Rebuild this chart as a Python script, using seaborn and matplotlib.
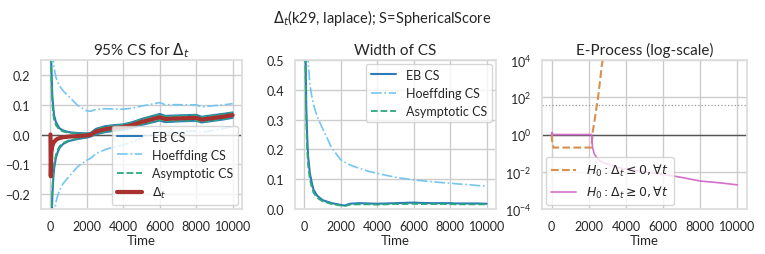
import numpy as np
import pandas as pd
import matplotlib
matplotlib.use("Agg")
import matplotlib.pyplot as plt
import seaborn as sns

# ---------------- data ----------------
time = [1, 20, 50, 100, 150, 200, 300, 400, 500, 700, 1000, 1500, 2000, 2200, 2500,
        3000, 3500, 4000, 4500, 5000, 5500, 6000, 6300, 7000, 7500, 8000, 8300, 9000,
        9500, 10000]
delta = [0.0, -0.14, -0.06, -0.04, -0.03, -0.025, -0.018, -0.014, -0.012, -0.009,
         -0.007, -0.005, -0.003, -0.001, 0.01, 0.018, 0.022, 0.025, 0.032, 0.042,
         0.05, 0.058, 0.052, 0.054, 0.055, 0.056, 0.05, 0.056, 0.06, 0.065]
eb_width = [2.0, 1.0, 0.6, 0.35, 0.25, 0.18, 0.12, 0.09, 0.065, 0.045, 0.03, 0.02,
            0.014, 0.012, 0.018, 0.02, 0.019, 0.018, 0.019, 0.02, 0.021, 0.022, 0.021,
            0.02, 0.02, 0.02, 0.019, 0.019, 0.019, 0.018]
asym_width = [1.8, 0.9, 0.5, 0.3, 0.2, 0.15, 0.1, 0.075, 0.055, 0.038, 0.026, 0.017,
              0.012, 0.010, 0.015, 0.016, 0.016, 0.015, 0.016, 0.017, 0.017, 0.018,
              0.017, 0.017, 0.017, 0.017, 0.016, 0.016, 0.016, 0.016]
hoeff_width = [10.0, 2.5, 1.2, 0.8, 0.6, 0.5, 0.42, 0.38, 0.35, 0.31, 0.27, 0.205,
               0.165, 0.158, 0.148, 0.137, 0.127, 0.12, 0.113, 0.107, 0.102, 0.098,
               0.096, 0.092, 0.089, 0.087, 0.085, 0.082, 0.079, 0.077]

e_time = [1, 20, 50, 100, 150, 500, 1000, 1500, 2000, 2150, 2200, 2300, 2500, 2700,
          2800, 3000, 3500, 4000, 5000, 6000, 7000, 8000, 9000, 10000]
e_le = [1.0, 0.5, 0.3, 0.2, 0.2, 0.2, 0.2, 0.2, 0.2, 0.2, 1.2, 5.0, 100.0, 5e3, 2e4,
        3e5, 1e8, 1e10, 1e13, 1e15, 1e17, 1e19, 1e21, 1e23]
e_ge = [1.0, 1.3, 1.0, 1.0, 1.0, 1.0, 1.0, 1.0, 1.0, 1.0, 0.2, 0.09, 0.045, 0.035,
        0.03, 0.026, 0.018, 0.014, 0.01, 0.0074, 0.005, 0.0032, 0.0026, 0.002]
alpha = 0.025

# ---------------- style ----------------
sns.set_theme(style="whitegrid")
plt.rcParams["font.family"] = ["Lato", "DejaVu Sans"]
plt.rcParams["mathtext.fontset"] = "dejavusans"

c_eb = "#2b7bba"
c_hoeff = "#74c6f0"
c_asym = "#2aa87a"
c_delta = "#a8302e"
c_le = "#d98f4e"
c_ge = "#d46fcb"

fig = plt.figure(figsize=(7.65, 2.55), dpi=100)
ax1 = fig.add_axes([0.054, 0.176, 0.262, 0.585])
ax2 = fig.add_axes([0.386, 0.176, 0.262, 0.585])
ax3 = fig.add_axes([0.709, 0.176, 0.267, 0.585])

t = np.array(time)
d = np.array(delta)
ebw = np.array(eb_width)
asw = np.array(asym_width)
how = np.array(hoeff_width)

leg_kw = dict(fontsize=9, framealpha=0.8, borderaxespad=0.3, handlelength=2.0)

# ---- panel 1: CS ----
ax1.axhline(0, color="#555555", lw=1.0, zorder=1)
for sgn, lab in [(1, "EB CS"), (-1, None)]:
    sns.lineplot(x=t, y=d + sgn * ebw / 2, ax=ax1, color=c_eb, lw=1.5, label=lab)
for sgn, lab in [(1, "Hoeffding CS"), (-1, None)]:
    sns.lineplot(x=t, y=d + sgn * how / 2, ax=ax1, color=c_hoeff, lw=1.2,
                 linestyle="-.", label=lab)
for sgn, lab in [(1, "Asymptotic CS"), (-1, None)]:
    sns.lineplot(x=t, y=d + sgn * asw / 2, ax=ax1, color=c_asym, lw=1.3,
                 linestyle="--", label=lab)
sns.lineplot(x=t, y=d, ax=ax1, color=c_delta, lw=3, label=r"$\Delta_t$")
ax1.set_ylim(-0.25, 0.25)
ax1.set_yticks([-0.2, -0.1, 0.0, 0.1, 0.2])
ax1.set_title(r"95% CS for $\Delta_t$", fontsize=11, pad=4)
ax1.legend(loc="lower right", **leg_kw)

# ---- panel 2: widths ----
sns.lineplot(x=t, y=ebw, ax=ax2, color=c_eb, lw=1.5, label="EB CS")
sns.lineplot(x=t, y=how, ax=ax2, color=c_hoeff, lw=1.2, linestyle="-.",
             label="Hoeffding CS")
sns.lineplot(x=t, y=asw, ax=ax2, color=c_asym, lw=1.3, linestyle="--",
             label="Asymptotic CS")
ax2.set_ylim(0, 0.5)
ax2.set_yticks([0.0, 0.1, 0.2, 0.3, 0.4, 0.5])
ax2.set_title("Width of CS", fontsize=11, pad=4)
ax2.legend(loc="upper right", **leg_kw)

# ---- panel 3: e-process ----
ax3.set_yscale("log")
ax3.axhline(1, color="#555555", lw=1.0, zorder=1)
ax3.axhline(1 / alpha, color="#999999", lw=0.9, linestyle=":", zorder=1)
sns.lineplot(x=e_time, y=e_le, ax=ax3, color=c_le, lw=1.5, linestyle="--",
             label=r"$H_0: \Delta_t \leq 0, \forall t$")
sns.lineplot(x=e_time, y=e_ge, ax=ax3, color=c_ge, lw=1.2,
             label=r"$H_0: \Delta_t \geq 0, \forall t$")
ax3.set_ylim(1e-4, 1e4)
ax3.set_yticks([1e-4, 1e-2, 1e0, 1e2, 1e4])
ax3.minorticks_off()
ax3.set_title("E-Process (log-scale)", fontsize=11, pad=4)
ax3.legend(loc="lower left", **leg_kw)

for ax in (ax1, ax2, ax3):
    ax.set_xlim(-500, 10500)
    ax.set_xticks([0, 2000, 4000, 6000, 8000, 10000])
    ax.set_xlabel("Time", fontsize=9.5, labelpad=1)
    ax.set_ylabel("")
    ax.tick_params(axis="both", labelsize=9, pad=2)
    for s in ax.spines.values():
        s.set_color("#dddddd")

fig.suptitle(r"$\Delta_t$(k29, laplace); S=SphericalScore", fontsize=10.5, y=0.97)
fig.savefig("out.png", dpi=100)
